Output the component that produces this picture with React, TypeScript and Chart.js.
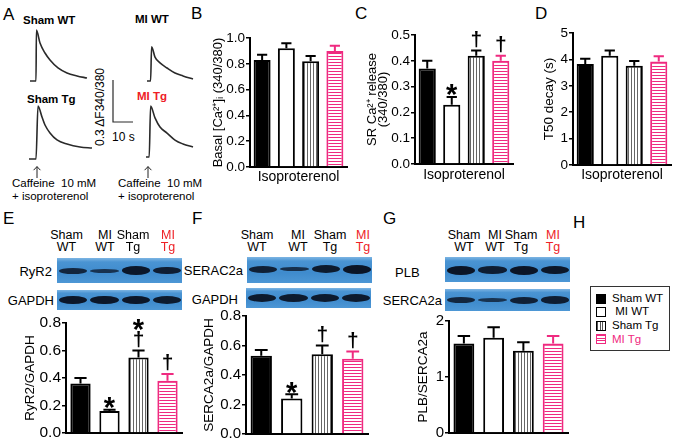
import React, { useEffect, useRef } from "react";
import { Chart, registerables } from "chart.js";
Chart.register(...registerables);

const FONT = "'Liberation Sans', Arial, Helvetica, sans-serif";
const PINK = "#ef2a80";
const RED = "#ee2026";
const TRACE = "#2a2a2a";

// ---------- data ----------
const groups = ["Sham WT", "MI WT", "Sham Tg", "MI Tg"];

// B: basal [Ca2+]i
const basalMeans = [0.83, 0.92, 0.82, 0.9];
const basalErr = [0.04, 0.04, 0.04, 0.04];
const basalMarks = ["", "", "", ""];
// C: SR Ca2+ release
const srMeans = [0.37, 0.23, 0.42, 0.4];
const srErr = [0.03, 0.03, 0.02, 0.02];
const srMarks = ["", "*", "†", "†"];
// D: T50 decay
const t50Means = [3.83, 4.14, 3.76, 3.92];
const t50Err = [0.19, 0.2, 0.18, 0.2];
const t50Marks = ["", "", "", ""];
// E: RyR2/GAPDH
const ryrMeans = [0.36, 0.16, 0.55, 0.38];
const ryrErr = [0.04, 0.01, 0.05, 0.05];
const ryrMarks = ["", "*", "*†", "†"];
// F: SERCA2a/GAPDH
const sercaMeans = [0.53, 0.24, 0.54, 0.51];
const sercaErr = [0.04, 0.03, 0.06, 0.05];
const sercaMarks = ["", "*", "†", "†"];
// G: PLB/SERCA2a
const plbMeans = [1.6, 1.7, 1.47, 1.6];
const plbErr = [0.13, 0.19, 0.15, 0.13];
const plbMarks = ["", "", "", ""];

// A: caffeine-induced transients (time s, ΔF340/380)
const shamWtTime = [0, 3, 3.2, 5, 7.5, 10, 14, 18.5, 23.5, 28.5];
const shamWtRatio = [0, 0, 0.364, 0.271, 0.2, 0.15, 0.093, 0.057, 0.036, 0.021];
const shamTgTime = [0, 3.5, 4.5, 6.5, 8, 10.5, 14, 19, 25.5, 31.5];
const shamTgRatio = [0, 0, 0.379, 0.3, 0.243, 0.186, 0.136, 0.107, 0.086, 0.079];
const miWtTime = [0, 1.8, 2.3, 4, 6.5, 10, 14, 18, 23];
const miWtRatio = [0, 0, 0.245, 0.171, 0.129, 0.093, 0.057, 0.036, 0.014];
const miTgTime = [0, 1.6, 2.3, 4.5, 7, 10.5, 14.5, 18.5, 23.5];
const miTgRatio = [0, 0, 0.364, 0.279, 0.214, 0.171, 0.121, 0.093, 0.071];
const scaleBarTime = [0, 0, 10];
const scaleBarRatio = [0.3, 0, 0];

// Western blot band strengths (thickness)
const ryr2Band = [6, 4, 8.5, 7.5];
const gapdhBandE = [8.5, 8.5, 8.5, 8];
const serca2aBandF = [7, 4.5, 8, 9];
const gapdhBandF = [8, 8, 8, 8];
const plbBand = [9, 7.5, 9, 8.5];
const serca2aBandG = [6, 4, 7, 7.5];

// ---------- helpers ----------
function vStripe(): CanvasPattern {
  const c = document.createElement("canvas");
  c.width = 3; c.height = 3;
  const g = c.getContext("2d")!;
  g.fillStyle = "#fff"; g.fillRect(0, 0, 3, 3);
  g.fillStyle = "#666"; g.fillRect(0, 0, 1, 3);
  return g.createPattern(c, "repeat")!;
}
function hStripe(color: string): CanvasPattern {
  const c = document.createElement("canvas");
  c.width = 3; c.height = 3;
  const g = c.getContext("2d")!;
  g.fillStyle = "#fff"; g.fillRect(0, 0, 3, 3);
  g.fillStyle = color; g.fillRect(0, 0, 3, 1);
  return g.createPattern(c, "repeat")!;
}

type BarSpec = {
  means: number[]; errs: number[]; marks: string[];
  x1: number; y1: number; x2: number; y2: number;
  yW: number; padTop: number; padRight: number; xH: number;
  max: number; step: number; dec: number; tickSize: number;
  title: string | string[]; titleSize: number; titlePad: number; titleLH?: number;
  xTitle?: string; xTitlePad?: number;
};

function BarPanel({ s }: { s: BarSpec }) {
  const ref = useRef<HTMLCanvasElement>(null);
  const left = s.x1 - s.yW;
  const top = s.y1 - s.padTop;
  const w = s.yW + (s.x2 - s.x1) + s.padRight;
  const h = s.padTop + (s.y2 - s.y1) + s.xH;
  useEffect(() => {
    const fills: any[] = ["#000000", "#ffffff", vStripe(), hStripe(PINK)];
    const borders = ["#000000", "#000000", "#000000", PINK];
    const errPlugin = {
      id: "errMarks",
      afterDatasetsDraw(chart: any) {
        const ctx = chart.ctx;
        const ys = chart.scales.y;
        chart.getDatasetMeta(0).data.forEach((bar: any, i: number) => {
          const yv = ys.getPixelForValue(s.means[i]);
          const yt = ys.getPixelForValue(s.means[i] + s.errs[i]);
          const cap = bar.width * 0.6;
          ctx.save();
          ctx.strokeStyle = borders[i];
          ctx.lineWidth = 2;
          ctx.beginPath();
          ctx.moveTo(bar.x, yv); ctx.lineTo(bar.x, yt);
          ctx.moveTo(bar.x - cap / 2, yt); ctx.lineTo(bar.x + cap / 2, yt);
          ctx.stroke();
          const chars = Array.from(s.marks[i]).reverse();
          let c = yt;
          chars.forEach((ch, k) => {
            const star = ch === "*";
            c = k === 0 ? yt - (star ? 9 : 11) : c - 17;
            ctx.font = star ? `bold 29px ${FONT}` : `bold 21px ${FONT}`;
            ctx.fillStyle = "#000";
            ctx.textAlign = "center";
            ctx.textBaseline = "alphabetic";
            ctx.fillText(ch, bar.x, c + (star ? 16.5 : 6.5));
          });
          ctx.restore();
        });
      },
    };
    const chart = new Chart(ref.current!, {
      type: "bar",
      data: {
        labels: groups,
        datasets: [{
          data: s.means, backgroundColor: fills, borderColor: borders, borderWidth: 2,
          barPercentage: 0.7, categoryPercentage: 1,
        }],
      },
      options: {
        responsive: false, animation: false, maintainAspectRatio: false,
        layout: { padding: { top: s.padTop, right: s.padRight, left: 0, bottom: 0 } },
        plugins: { legend: { display: false }, tooltip: { enabled: false } },
        scales: {
          x: {
            grid: { display: false },
            border: { display: true, color: "#000", width: 2 },
            ticks: { display: false },
            title: s.xTitle
              ? { display: true, text: s.xTitle, color: "#000", font: { family: FONT, size: 14 }, padding: { top: 0, bottom: s.xTitlePad ?? 0 } }
              : { display: false },
            afterFit: (sc: any) => { sc.height = s.xH; },
            z: 1,
          } as any,
          y: {
            min: 0, max: s.max,
            ticks: {
              stepSize: s.step, color: "#000", font: { family: FONT, size: s.tickSize }, padding: 1,
              callback: (v: any) => Number(v).toFixed(s.dec),
            },
            grid: { display: true, drawOnChartArea: false, drawTicks: true, tickLength: 4, color: "#000", lineWidth: 1.5 },
            border: { display: true, color: "#000", width: 2 },
            title: {
              display: true, text: s.title, color: "#000",
              font: { family: FONT, size: s.titleSize, lineHeight: s.titleLH ?? 1.2 },
              padding: { top: s.titlePad, bottom: 0 },
            },
            afterFit: (sc: any) => { sc.width = s.yW; },
          } as any,
        },
      },
      plugins: [errPlugin],
    });
    return () => chart.destroy();
  }, []);
  return (
    <canvas ref={ref} width={w} height={h}
      style={{ position: "absolute", left, top, width: w, height: h }} />
  );
}

function Trace({ left, top, time, ratio, smooth }: { left: number; top: number; time: number[]; ratio: number[]; smooth: boolean }) {
  const ref = useRef<HTMLCanvasElement>(null);
  useEffect(() => {
    const chart = new Chart(ref.current!, {
      type: "line",
      data: {
        datasets: [{
          data: time.map((t, i) => ({ x: t, y: ratio[i] })),
          borderColor: TRACE, borderWidth: smooth ? 1.6 : 1.2, pointRadius: 0,
          cubicInterpolationMode: smooth ? "monotone" : "default", tension: 0,
          fill: false, clip: false,
        } as any],
      },
      options: {
        responsive: false, animation: false,
        layout: { padding: 3 },
        plugins: { legend: { display: false }, tooltip: { enabled: false } },
        scales: {
          x: { type: "linear", min: 0, max: 32, display: false },
          y: { type: "linear", min: 0, max: 0.4, display: false },
        },
      },
    });
    return () => chart.destroy();
  }, []);
  return <canvas ref={ref} width={70} height={62} style={{ position: "absolute", left, top, width: 70, height: 62 }} />;
}

function Txt({ x, y, children, size = 12, color = "#000", weight = 400, align = "left", rot = false }: any) {
  const tx = align === "center" ? "-50%" : align === "right" ? "-100%" : "0";
  return (
    <div style={{
      position: "absolute", left: x, top: y, fontSize: size, color, fontWeight: weight,
      lineHeight: 1, whiteSpace: "pre", fontFamily: FONT,
      transform: rot ? "translate(-50%,-50%) rotate(-90deg)" : `translate(${tx},-50%)`,
    }}>{children}</div>
  );
}

function Lane({ x, a, b, color = "#000" }: any) {
  return (
    <div style={{
      position: "absolute", left: x, top: 241, transform: "translate(-50%,-50%)",
      fontFamily: FONT, fontSize: 12.5, lineHeight: "12px", textAlign: "center", color, whiteSpace: "pre",
    }}>{a}<br />{b}</div>
  );
}

function Blot({ x, y, w, h, cy, bands }: any) {
  const lane = w / 4;
  return (
    <div style={{
      position: "absolute", left: x, top: y, width: w, height: h, overflow: "hidden",
      background: "linear-gradient(180deg,#7db5e3 0%,#4a94d3 16%,#3f8bcd 60%,#4d97d5 100%)",
    }}>
      {bands.map((t: number, i: number) => (
        <div key={i} style={{
          position: "absolute", left: i * lane + 2, width: lane - 3, top: cy - y - t / 2, height: t,
          borderRadius: "50%", background: "#0b1526", opacity: 0.55 + t / 20, filter: "blur(0.7px)",
        }} />
      ))}
    </div>
  );
}

function Arrow({ x, y }: any) {
  return (
    <svg style={{ position: "absolute", left: x - 4, top: y, overflow: "visible" }} width={8} height={12}>
      <path d="M4 12 V0.6 M0.6 4.2 L4 0.6 L7.4 4.2" stroke="#222" strokeWidth={1} fill="none" />
    </svg>
  );
}

function Swatch({ kind }: { kind: number }) {
  const base: any = { width: 10, height: 10, boxSizing: "border-box", display: "inline-block" };
  if (kind === 0) return <div style={{ ...base, background: "#000", border: "1.5px solid #000" }} />;
  if (kind === 1) return <div style={{ ...base, background: "#fff", border: "1.5px solid #000" }} />;
  if (kind === 2) return <div style={{ ...base, border: "1.5px solid #000", background: "repeating-linear-gradient(90deg,#555 0 1px,#fff 1px 2.5px)" }} />;
  return <div style={{ ...base, border: `1.5px solid ${PINK}`, background: `repeating-linear-gradient(180deg,${PINK} 0 1px,#fff 1px 2.5px)` }} />;
}

const specB: BarSpec = {
  means: basalMeans, errs: basalErr, marks: basalMarks,
  x1: 250, y1: 38, x2: 347, y2: 167, yW: 45, padTop: 12, padRight: 3, xH: 22,
  max: 1, step: 0.2, dec: 1, tickSize: 13.5,
  title: "Basal [Ca²⁺]ᵢ (340/380)", titleSize: 13, titlePad: 6, xTitle: "Isoproterenol", xTitlePad: 3.6,
};
const specC: BarSpec = {
  means: srMeans, errs: srErr, marks: srMarks,
  x1: 415, y1: 35, x2: 513, y2: 164, yW: 50, padTop: 12, padRight: 3, xH: 20,
  max: 0.5, step: 0.1, dec: 1, tickSize: 13.5,
  title: ["SR Ca²⁺ release", "(340/380)"], titleSize: 13, titlePad: 1.2, titleLH: 0.9,
  xTitle: "Isoproterenol", xTitlePad: 0.6,
};
const specD: BarSpec = {
  means: t50Means, errs: t50Err, marks: t50Marks,
  x1: 573, y1: 33, x2: 671, y2: 165, yW: 35, padTop: 12, padRight: 3, xH: 20,
  max: 5, step: 1, dec: 0, tickSize: 13.5,
  title: "T50 decay (s)", titleSize: 13.5, titlePad: 3, xTitle: "Isoproterenol", xTitlePad: 1.6,
};
const specE: BarSpec = {
  means: ryrMeans, errs: ryrErr, marks: ryrMarks,
  x1: 66, y1: 323, x2: 182, y2: 433, yW: 44, padTop: 16, padRight: 4, xH: 12,
  max: 0.8, step: 0.2, dec: 1, tickSize: 15.5,
  title: "RyR2/GAPDH", titleSize: 13.5, titlePad: 0,
};
const specF: BarSpec = {
  means: sercaMeans, errs: sercaErr, marks: sercaMarks,
  x1: 246, y1: 316, x2: 368, y2: 434, yW: 45, padTop: 12, padRight: 4, xH: 12,
  max: 0.8, step: 0.2, dec: 1, tickSize: 15,
  title: "SERCA2a/GAPDH", titleSize: 13.5, titlePad: 0,
};
const specG: BarSpec = {
  means: plbMeans, errs: plbErr, marks: plbMarks,
  x1: 449, y1: 321, x2: 568, y2: 433, yW: 36, padTop: 12, padRight: 4, xH: 12,
  max: 2, step: 1, dec: 0, tickSize: 15,
  title: "PLB/SERCA2a", titleSize: 13.5, titlePad: 1.9,
};

export default function App() {
  return (
    <div style={{ position: "fixed", left: 0, top: 0, width: 675, height: 441, background: "#fff", overflow: "hidden", fontFamily: FONT }}>
      {/* panel letters */}
      <Txt x={3} y={14} size={17}>A</Txt>
      <Txt x={191} y={13} size={17}>B</Txt>
      <Txt x={355} y={13} size={17}>C</Txt>
      <Txt x={535} y={13} size={17}>D</Txt>
      <Txt x={3} y={218} size={17}>E</Txt>
      <Txt x={192} y={218} size={17}>F</Txt>
      <Txt x={383} y={218} size={17}>G</Txt>
      <Txt x={573} y={222} size={17}>H</Txt>

      {/* panel A */}
      <Txt x={23} y={21} size={11.5} weight={700}>Sham WT</Txt>
      <Txt x={135} y={20} size={11.5} weight={700}>MI WT</Txt>
      <Txt x={27} y={100} size={11.5} weight={700}>Sham Tg</Txt>
      <Txt x={137} y={97} size={11.5} weight={700} color={RED}>MI Tg</Txt>
      <Txt x={100} y={107} size={12} rot>0.3 ΔF340/380</Txt>
      <Txt x={112} y={137} size={12}>10 s</Txt>
      <Txt x={12} y={184} size={11.5}>{"Caffeine  10 mM"}</Txt>
      <Txt x={12} y={197} size={11.5}>+ isoproterenol</Txt>
      <Txt x={118} y={184} size={11.5}>{"Caffeine  10 mM"}</Txt>
      <Txt x={118} y={197} size={11.5}>+ isoproterenol</Txt>
      <Arrow x={36.5} y={166} />
      <Arrow x={147.5} y={166} />
      <Trace left={27} top={22} time={shamWtTime} ratio={shamWtRatio} smooth />
      <Trace left={26} top={100} time={shamTgTime} ratio={shamTgRatio} smooth />
      <Trace left={144} top={22} time={miWtTime} ratio={miWtRatio} smooth />
      <Trace left={143} top={98} time={miTgTime} ratio={miTgRatio} smooth />
      <Trace left={110} top={63} time={scaleBarTime} ratio={scaleBarRatio} smooth={false} />

      {/* blots E */}
      <Lane x={66.5} a="Sham" b="WT" />
      <Lane x={105} a="MI" b="WT" />
      <Lane x={133} a="Sham" b="Tg" />
      <Lane x={168} a="MI" b="Tg" color={RED} />
      <Txt x={52} y={271} size={13} align="right">RyR2</Txt>
      <Txt x={54} y={300} size={13} align="right">GAPDH</Txt>
      <Blot x={57} y={258} w={125} h={25} cy={270.5} bands={ryr2Band} />
      <Blot x={57} y={290} w={125} h={20} cy={300} bands={gapdhBandE} />

      {/* blots F */}
      <Lane x={257} a="Sham" b="WT" />
      <Lane x={298} a="MI" b="WT" />
      <Lane x={330} a="Sham" b="Tg" />
      <Lane x={363} a="MI" b="Tg" color={RED} />
      <Txt x={243} y={270} size={13} align="right">SERAC2a</Txt>
      <Txt x={238} y={299} size={13} align="right">GAPDH</Txt>
      <Blot x={247} y={257} w={125} h={26} cy={269} bands={serca2aBandF} />
      <Blot x={246} y={288} w={125} h={20} cy={298} bands={gapdhBandF} />

      {/* blots G */}
      <Lane x={464} a="Sham" b="WT" />
      <Lane x={495} a="MI" b="WT" />
      <Lane x={521} a="Sham" b="Tg" />
      <Lane x={553} a="MI" b="Tg" color={RED} />
      <Txt x={395} y={272} size={13}>PLB</Txt>
      <Txt x={442} y={300} size={13} align="right">SERCA2a</Txt>
      <Blot x={445} y={257} w={125} h={25} cy={270} bands={plbBand} />
      <Blot x={445} y={289} w={125} h={22} cy={300} bands={serca2aBandG} />

      {/* legend H */}
      <div style={{ position: "absolute", left: 590, top: 286, width: 80, height: 65, boxSizing: "border-box", border: "1.5px solid #333", background: "#fff" }}>
        {groups.map((g, i) => (
          <div key={g} style={{ position: "absolute", left: 5, top: 6.5 + i * 13.6, height: 10, display: "flex", alignItems: "center" }}>
            <Swatch kind={i} />
            <span style={{ marginLeft: 6, fontSize: 11.5, lineHeight: 1, whiteSpace: "pre", color: i === 3 ? PINK : "#000" }}>{i === 1 ? " " + g : g}</span>
          </div>
        ))}
      </div>

      <BarPanel s={specB} />
      <BarPanel s={specC} />
      <BarPanel s={specD} />
      <BarPanel s={specE} />
      <BarPanel s={specF} />
      <BarPanel s={specG} />
    </div>
  );
}
